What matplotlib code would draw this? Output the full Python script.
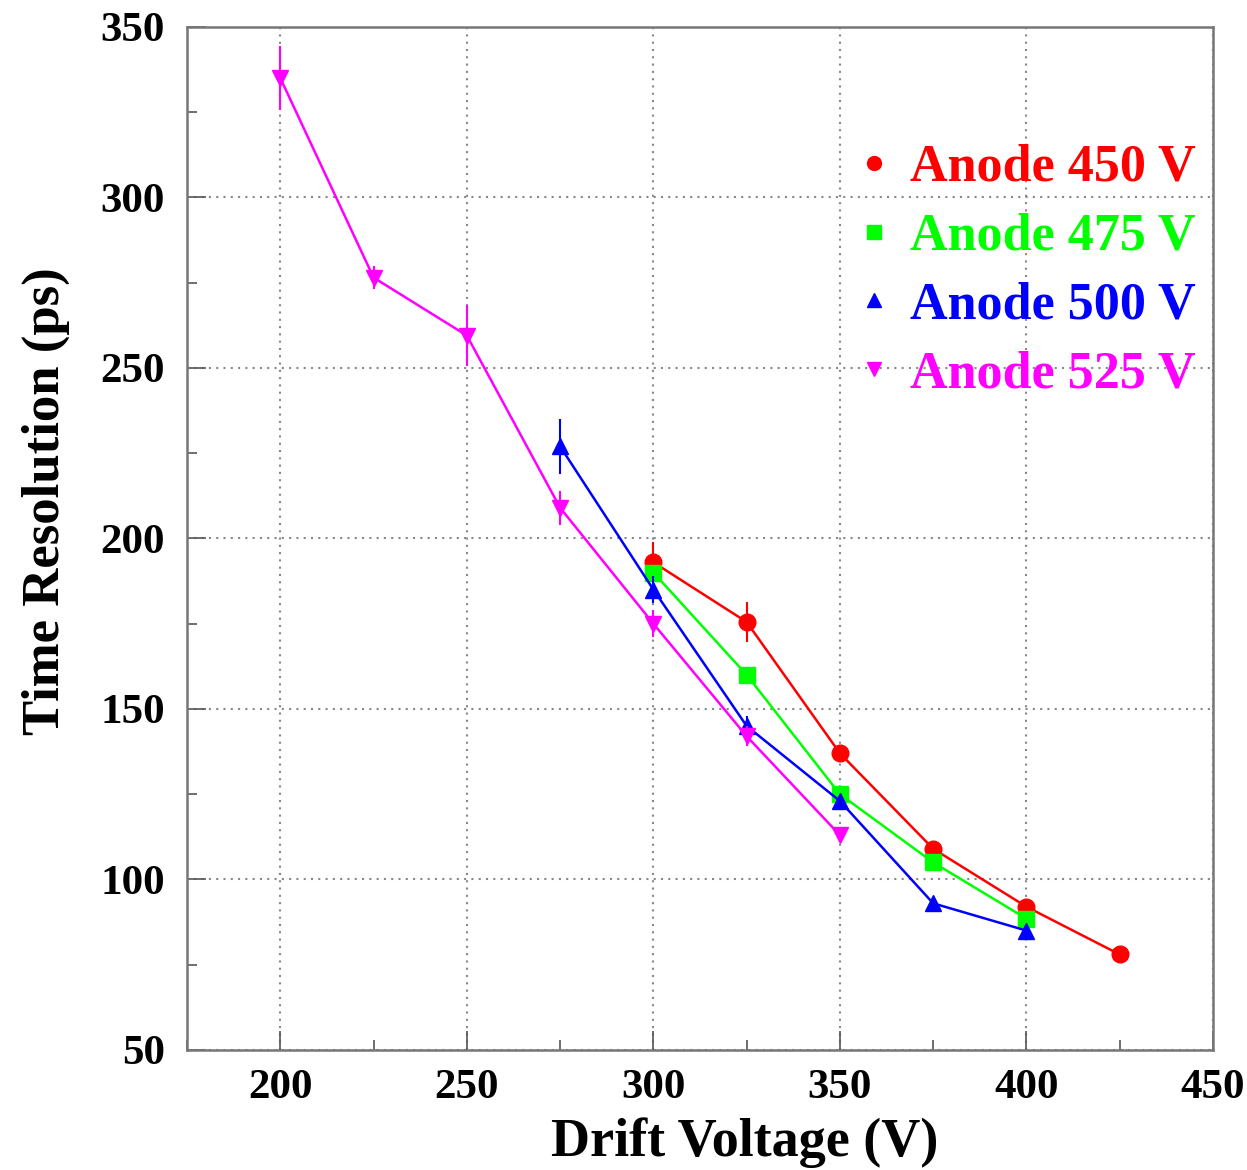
import matplotlib
matplotlib.use("Agg")
import matplotlib.pyplot as plt
from matplotlib.lines import Line2D
from matplotlib.ticker import MultipleLocator

plt.rcParams['font.family'] = ['Liberation Serif', 'DejaVu Serif']
plt.rcParams['font.weight'] = 'bold'

# Anode 450 V
v450 = [300, 325, 350, 375, 400, 425]
t450 = [193, 175.5, 137, 109, 92, 78]
e450 = [6, 6, 2, 2, 2, 1.5]
# Anode 475 V
v475 = [300, 325, 350, 375, 400]
t475 = [190, 160, 125, 105, 88.5]
e475 = [2, 2, 2, 2, 1.5]
# Anode 500 V
v500 = [275, 300, 325, 350, 375, 400]
t500 = [227, 185, 145, 123, 93, 85]
e500 = [8, 4, 3, 2, 1.5, 1.5]
# Anode 525 V
v525 = [200, 225, 250, 275, 300, 325, 350]
t525 = [335, 276.5, 259.5, 209, 175, 142, 113]
e525 = [9.5, 3.5, 9, 5, 4, 3, 2]

labels = ['Anode 450 V', 'Anode 475 V', 'Anode 500 V', 'Anode 525 V']
colors = ['#ff0000', '#00ff00', '#0000ff', '#ff00ff']
markers = ['o', 's', '^', 'v']
sizes = [12, 11, 12, 12]

series = [(v450, t450, e450), (v475, t475, e475), (v500, t500, e500), (v525, t525, e525)]

fig = plt.figure(figsize=(12.47, 11.7), dpi=100)
ax = fig.add_axes([0.15, 0.1026, 0.8227, 0.8744])

order = [1, 2, 3, 0]
for i in order:
    x, y, e = series[i]
    ax.errorbar(x, y, yerr=e, color=colors[i], marker=markers[i], markersize=sizes[i],
                lw=1.8, elinewidth=1.5, capsize=0, zorder=3 + i)

ax.set_xlim(175, 450)
ax.set_ylim(50, 350)
ax.xaxis.set_major_locator(MultipleLocator(50))
ax.xaxis.set_minor_locator(MultipleLocator(25))
ax.yaxis.set_major_locator(MultipleLocator(50))
ax.yaxis.set_minor_locator(MultipleLocator(25))
ax.grid(True, which='major', linestyle=(0, (1, 2.5)), color='#888888', lw=1.5)
ax.tick_params(which='major', direction='in', length=14, width=1.2, color='#555555',
               labelsize=31, top=False, right=False)
ax.tick_params(axis='x', which='major', pad=14)
ax.tick_params(axis='y', which='major', pad=16)
ax.tick_params(which='minor', direction='in', length=7, width=1.2, color='#555555',
               top=False, right=False)
for s in ax.spines.values():
    s.set_color('#777777')
    s.set_linewidth(1.8)

ax.set_xlabel('Drift Voltage (V)', fontsize=39, fontweight='bold', va='center')
ax.xaxis.set_label_coords(0.544, -0.091)
ax.set_ylabel('Time Resolution (ps)', fontsize=38, fontweight='bold', va='center')
ax.yaxis.set_label_coords(-0.138, 0.536)

handles = [Line2D([], [], color=c, marker=m, linestyle='none', markersize=10)
           for c, m in zip(colors, markers)]
ax.legend(handles, labels, loc='upper right', bbox_to_anchor=(1.004, 0.906), frameon=False,
          labelcolor=colors, prop={'family': 'Liberation Serif', 'weight': 'bold', 'size': 37.5},
          handlelength=0.8, handletextpad=0.3, labelspacing=0.40, borderaxespad=0.0)

fig.savefig('out.png', dpi=100)
